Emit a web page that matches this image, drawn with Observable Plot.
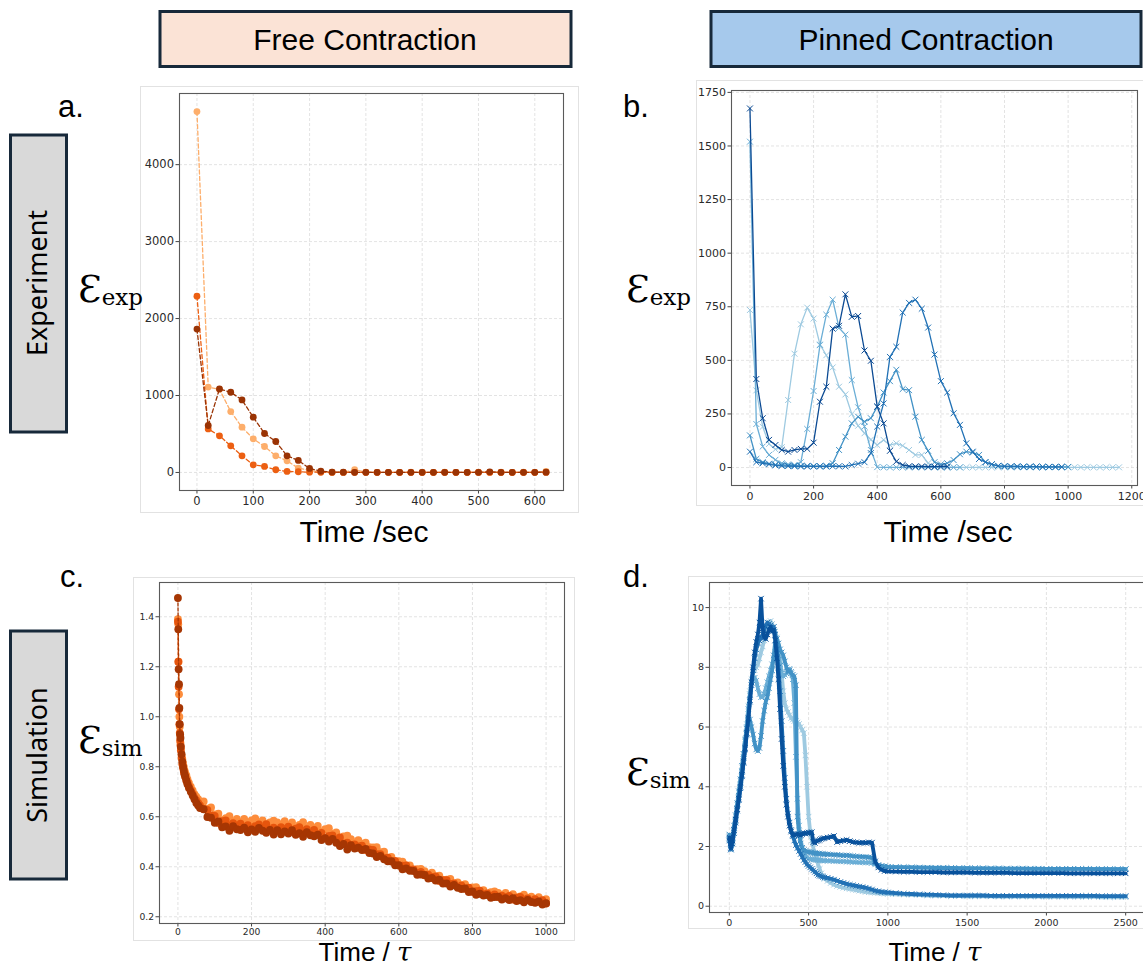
<!DOCTYPE html>
<html><head><meta charset="utf-8">
<script src="https://cdn.jsdelivr.net/npm/d3@7"></script>
<script src="https://cdn.jsdelivr.net/npm/@observablehq/plot@0.6"></script>
<style>
body{margin:0;background:#fff;}
#root{position:relative;width:1143px;height:967px;overflow:hidden;background:#fff;}
.outer{position:absolute;border:1px solid #e2e2e2;box-sizing:border-box;}
</style></head>
<body><div id="root"></div>
<script>
// ---------- Panel a (free contraction, experiment) ----------
const timeA = [0,20,40,60,80,100,120,140,160,180,200,220,240,260,280,300,320,340,360,380,400,420,440,460,480,500,520,540,560,580,600,620];
const aLight = [4690,1110,1080,791,588,437,337,216,151,56,26,5,3,2,35,3,2,2,2,3,2,2,3,2,2,3,2,3,2,3,2,15];
const aMid   = [2291,566,476,346,216,99,78,35,13,9,4,2,1,1,1,1,1,1,1,1,1,1,1,1,1,1,1,1,1,1,1,1];
const aDark  = [1863,610,1085,1042,942,718,506,402,216,156,52,17,5,3,2,2,2,2,2,2,2,2,2,2,2,2,8,2,2,2,2,4];
const xTicksA = [0,100,200,300,400,500,600];
const yTicksA = [0,1000,2000,3000,4000];

// ---------- Panel b (pinned contraction, experiment) ----------
const timeB = [0,20,40,60,80,100,120,140,160,180,200,220,240,260,280,300,320,340,360,380,400,420,440,460,480,500,520,540,560,580,600,620,640,660,680,700,720,740,760,780,800,820,840,860,880,900,920,940,960,980,1000,1020,1040,1060,1080,1100,1120,1140,1160];
const bLight  = [735,360,190,110,85,95,315,531,668,746,695,574,524,467,377,341,250,195,160,130,105,129,105,113,102,82,59,59,20,2,1,1,1,1,1,1,1,1,1,1,1,1,1,1,1,1,1,1,1,1,1,1,1,1,1,1,1,1,1];
const bLMid   = [1520,203,98,59,36,20,15,12,25,180,357,571,713,783,651,620,408,281,191,82,2,1,1,1,1,1,1,1,1,1,1,1,1,1];
const bMid    = [150,40,25,18,14,12,10,9,8,8,7,7,8,20,82,144,206,237,214,230,284,350,403,456,366,361,237,129,78,25,15,20,35,62,74,70,59,25,15,8,6,5,5,4,4,4,3,3,3,3,3];
const bDMid   = [74,25,20,15,10,8,7,6,5,5,5,5,5,6,6,5,12,18,25,67,191,299,516,563,723,768,783,741,653,527,403,350,253,199,113,74,40,25,15,8,6,5,5,4,4,4,3,3,3,3];
const bNavy   = [1675,413,230,129,105,82,74,82,87,87,116,307,377,648,661,808,703,707,546,498,284,206,78,28,12,6,5,5,4,4,5,5];
const xTicksB = [0,200,400,600,800,1000,1200];
const yTicksB = [0,250,500,750,1000,1250,1500,1750];

// ---------- Panel c (free contraction, simulation) ----------
const timeC = [0,1,2,3,4,5,6,7,8,10,12,14,16,18,20,23,26,30,35,40,45,50,55,60,
 70,80,90,100,110,120,130,140,150,160,170,180,190,200,210,220,230,240,250,260,270,280,290,300,
 310,320,330,340,350,360,370,380,390,400,410,420,430,440,450,460,470,480,490,500,510,520,530,540,550,
 560,570,580,590,600,610,620,630,640,650,660,670,680,690,700,710,720,730,740,750,760,770,780,790,800,
 810,820,830,840,850,860,870,880,890,900,910,920,930,940,950,960,970,980,990,1000];
const cLight = [1.39,1.37,1.22,1.09,1.00,0.96,0.925,0.895,0.875,0.845,0.83,0.815,0.80,0.785,0.775,0.765,0.75,0.735,0.72,0.705,0.69,0.68,0.67,0.66,
 0.661,0.632,0.637,0.609,0.612,0.586,0.594,0.602,0.580,0.591,
 0.578,0.591,0.571,0.585,0.593,0.576,0.585,0.566,0.577,0.584,
 0.577,0.563,0.582,0.566,0.577,0.556,0.567,0.578,0.556,0.567,
 0.553,0.563,0.540,0.550,0.554,0.532,0.537,0.513,0.521,0.524,
 0.510,0.496,0.506,0.492,0.496,0.478,0.477,0.478,0.458,0.460,
 0.436,0.439,0.419,0.422,0.420,0.405,0.405,0.387,0.390,0.391,
 0.382,0.367,0.376,0.361,0.364,0.347,0.348,0.351,0.333,0.337,
 0.325,0.330,0.312,0.317,0.318,0.304,0.306,0.291,0.298,0.301,
 0.295,0.283,0.295,0.283,0.290,0.277,0.281,0.288,0.273,0.280,
 0.270,0.278,0.262,0.270];
const cMid = [1.38,1.22,1.12,1.03,0.97,0.935,0.905,0.885,0.865,0.835,0.81,0.795,0.78,0.77,0.76,0.745,0.735,0.72,0.705,0.69,0.675,0.665,0.655,0.645,
 0.631,0.627,0.605,0.603,0.575,0.582,0.585,0.565,0.574,0.557,
 0.572,0.557,0.566,0.550,0.562,0.569,0.555,0.570,0.548,0.556,
 0.547,0.558,0.550,0.560,0.540,0.552,0.558,0.541,0.550,0.533,
 0.547,0.529,0.535,0.515,0.523,0.525,0.507,0.517,0.492,0.496,
 0.486,0.489,0.481,0.484,0.467,0.469,0.467,0.450,0.450,0.434,
 0.436,0.421,0.423,0.405,0.404,0.405,0.388,0.389,0.374,0.379,
 0.366,0.368,0.359,0.361,0.343,0.346,0.346,0.331,0.333,0.319,
 0.325,0.312,0.316,0.300,0.302,0.304,0.289,0.293,0.282,0.289,
 0.279,0.284,0.278,0.283,0.269,0.276,0.279,0.268,0.273,0.262,
 0.270,0.260,0.266,0.253];
const cDark = [1.475,1.35,1.19,1.13,1.035,0.97,0.93,0.915,0.88,0.85,0.82,0.80,0.785,0.77,0.76,0.745,0.73,0.715,0.70,0.685,0.67,0.655,0.645,0.635,
 0.630,0.599,0.596,0.576,0.581,0.558,0.561,0.544,0.562,0.550,
 0.547,0.556,0.538,0.549,0.540,0.555,0.544,0.536,0.547,0.529,
 0.546,0.530,0.541,0.533,0.546,0.528,0.534,0.520,0.538,0.526,
 0.522,0.528,0.507,0.514,0.501,0.511,0.496,0.483,0.491,0.469,
 0.486,0.473,0.476,0.467,0.471,0.455,0.453,0.439,0.443,0.430,
 0.422,0.422,0.406,0.406,0.390,0.393,0.384,0.383,0.368,0.369,
 0.367,0.353,0.355,0.345,0.348,0.333,0.333,0.321,0.327,0.316,
 0.311,0.313,0.299,0.301,0.288,0.292,0.285,0.287,0.276,0.279,
 0.280,0.269,0.274,0.267,0.274,0.263,0.266,0.258,0.267,0.259,
 0.256,0.261,0.249,0.254];
const xTicksC = [0,200,400,600,800,1000];
const yTicksC = [0.2,0.4,0.6,0.8,1.0,1.2,1.4];

// ---------- Panel d (pinned contraction, simulation) ----------
const timeD = [0,10,20,30,40,50,60,70,80,90,100,110,120,130,140,150,160,170,180,190,200,210,220,230,240,250,260,270,280,290,
 300,310,320,330,340,350,360,370,380,390,400,410,420,430,440,450,460,470,480,490,500,510,520,530,540,550,560,570,580,590,600,
 620,640,660,680,700,720,740,760,780,800,820,840,860,880,900,920,940,960,980,1000,
 1050,1100,1150,1200,1250,1300,1350,1400,1450,1500,1550,1600,1650,1700,1750,1800,1850,1900,1950,2000,2050,2100,2150,2200,2250,2300,2350,2400,2450,2500];
const dNavy = [2.30,1.95,2.20,2.55,2.90,3.25,3.60,4.00,4.40,4.85,
 5.30,5.80,6.30,6.90,7.50,8.00,8.50,8.85,9.10,9.50,
 10.30,9.30,9.00,8.95,9.10,9.25,9.35,9.20,9.25,8.90,
 8.30,7.60,6.60,5.60,4.70,4.00,3.40,3.00,2.70,2.50,
 2.40,2.38,2.40,2.42,2.40,2.38,2.42,2.45,2.43,2.45,
 2.47,2.45,2.48,2.15,2.12,2.18,2.20,2.22,2.25,2.27,2.28,
 2.30,2.32,2.35,2.15,2.18,2.20,2.22,2.18,2.15,2.14,2.12,2.13,2.12,2.14,2.13,1.50,1.30,1.22,1.18,1.17,
 1.16,1.15,1.15,1.14,1.14,1.14,1.13,1.13,1.13,1.13,1.12,1.12,1.12,1.12,1.12,1.11,1.11,1.11,1.11,1.11,1.11,1.11,1.10,1.10,1.10,1.10,1.10,1.10,1.10,1.10];
const dDMid = [2.20,1.90,2.10,2.45,2.80,3.20,3.55,3.95,4.35,4.80,
 5.25,5.75,6.25,6.85,7.40,7.90,8.30,8.60,8.80,8.90,
 9.00,9.10,9.25,9.40,9.50,9.45,9.40,9.30,9.35,9.10,
 8.60,8.00,7.20,6.20,5.20,4.30,3.60,3.10,2.80,2.55,
 2.35,2.20,2.05,1.95,1.85,1.75,1.65,1.55,1.48,1.40,
 1.35,1.30,1.25,1.20,1.15,1.10,1.05,1.02,1.00,0.98,0.96,
 0.95,0.92,0.89,0.85,0.81,0.78,0.75,0.72,0.70,0.68,0.66,0.64,0.62,0.59,0.56,0.52,0.50,0.48,0.47,0.46,
 0.44,0.42,0.41,0.40,0.39,0.38,0.37,0.36,0.36,0.36,0.36,0.36,0.35,0.35,0.35,0.35,0.35,0.35,0.35,0.35,0.35,0.35,0.35,0.35,0.35,0.35,0.34,0.34,0.34,0.34];
const dMid = [2.40,2.00,2.30,2.70,3.05,3.45,3.85,4.25,4.70,5.10,
 5.55,5.95,6.20,6.25,6.00,5.75,5.45,5.25,5.20,5.30,
 5.70,6.20,6.55,6.85,7.00,7.30,7.60,7.90,8.40,8.90,
 8.95,8.80,8.60,8.50,8.40,8.20,8.00,7.85,7.90,7.80,
 7.75,7.70,7.40,3.00,2.40,2.10,1.95,1.88,1.85,1.83,
 1.82,1.80,1.80,1.78,1.78,1.77,1.76,1.76,1.75,1.75,1.74,
 1.74,1.73,1.72,1.72,1.71,1.70,1.70,1.69,1.68,1.67,1.66,1.65,1.65,1.64,1.63,1.45,1.38,1.35,1.33,1.32,
 1.31,1.30,1.30,1.29,1.29,1.28,1.28,1.28,1.27,1.27,1.27,1.27,1.26,1.26,1.26,1.26,1.26,1.25,1.25,1.25,1.25,1.25,1.25,1.25,1.25,1.24,1.24,1.24,1.24,1.24];
const dLMid = [2.25,1.90,2.15,2.50,2.85,3.25,3.65,4.05,4.50,5.00,
 5.50,6.00,6.60,7.10,7.50,7.60,7.65,7.55,7.30,7.10,
 7.00,7.00,7.10,7.30,7.50,7.70,7.90,8.10,8.30,8.50,
 8.70,8.40,8.10,7.80,7.70,7.75,7.80,7.90,7.95,7.85,
 7.60,6.80,5.00,3.60,2.70,2.20,1.95,1.80,1.70,1.63,
 1.60,1.58,1.57,1.56,1.56,1.55,1.55,1.54,1.54,1.53,1.53,
 1.52,1.52,1.51,1.51,1.50,1.50,1.49,1.49,1.48,1.48,1.47,1.47,1.46,1.46,1.45,1.40,1.36,1.34,1.33,1.32,
 1.31,1.31,1.30,1.30,1.29,1.29,1.29,1.28,1.28,1.28,1.27,1.27,1.27,1.27,1.26,1.26,1.26,1.26,1.26,1.25,1.25,1.25,1.25,1.25,1.25,1.25,1.25,1.24,1.24,1.24];
const dLight = [2.35,2.05,2.25,2.60,3.00,3.40,3.80,4.20,4.65,5.10,
 5.60,6.10,6.70,7.20,7.60,7.80,7.90,8.00,8.10,8.30,
 8.50,8.70,8.90,9.10,9.30,9.50,9.55,9.45,9.35,9.20,
 9.00,8.70,8.30,7.80,7.20,6.80,6.60,6.50,6.40,6.30,
 6.25,6.20,6.20,6.15,6.10,6.00,5.90,5.80,5.05,4.00,
 3.00,2.50,2.20,1.95,1.75,1.55,1.40,1.25,1.10,1.00,0.92,
 0.85,0.78,0.72,0.68,0.65,0.62,0.60,0.58,0.56,0.54,0.52,0.50,0.48,0.47,0.46,0.45,0.44,0.43,0.42,0.41,
 0.40,0.39,0.38,0.37,0.36,0.35,0.35,0.34,0.34,0.33,0.33,0.33,0.33,0.32,0.32,0.32,0.32,0.32,0.32,0.31,0.31,0.31,0.31,0.31,0.31,0.31,0.30,0.30,0.30,0.30];
const xTicksD = [0,500,1000,1500,2000,2500];
const yTicksD = [0,2,4,6,8,10];

// ---------- helpers ----------
const root = document.getElementById("root");
const zipS = (t, v) => v.map((y, i) => ({t: t[i], v: y}));

function outer(l, t, w, h) {
  const d = document.createElement("div");
  d.className = "outer";
  Object.assign(d.style, {left: l + "px", top: t + "px", width: w + "px", height: h + "px"});
  root.appendChild(d);
}

function panel(o) {
  const grid = {stroke: "#d0d0d0", strokeOpacity: 0.75, strokeDasharray: "3,2", strokeWidth: 0.8};
  const p = Plot.plot({
    width: o.width, height: o.height,
    marginLeft: o.mL, marginRight: o.mR, marginTop: o.mT, marginBottom: o.mB,
    x: {domain: o.xDom},
    y: {domain: o.yDom},
    style: {fontFamily: "DejaVu Sans", fontSize: o.fs + "px", color: "#2a2a2a", background: "transparent", overflow: "visible"},
    marks: [
      Plot.gridX(o.xT, grid),
      Plot.gridY(o.yT, grid),
      Plot.axisX(o.xT, {tickSize: 3.5, tickPadding: o.xPad ?? 3, label: null, fontSize: o.fs, stroke: "#444",
        tickFormat: d => String(d)}),
      Plot.axisY(o.yT, {tickSize: 3.5, tickPadding: 2, label: null, fontSize: o.fs, stroke: "#444",
        tickFormat: o.yFmt || (d => String(d))}),
      ...o.marks,
      Plot.frame({stroke: "#5a5a5a", strokeWidth: 1.1})
    ]
  });
  Object.assign(p.style, {position: "absolute", left: o.left + "px", top: o.top + "px"});
  root.appendChild(p);
}

function dashedDots(data, color, r, dash) {
  return [
    Plot.line(data, {x: "t", y: "v", stroke: color, strokeWidth: 1.3, strokeDasharray: dash}),
    Plot.dot(data, {x: "t", y: "v", fill: color, r: r})
  ];
}
function crossLine(data, color, sw, r) {
  return [
    Plot.line(data, {x: "t", y: "v", stroke: color, strokeWidth: sw}),
    Plot.dot(data, {x: "t", y: "v", symbol: "times", stroke: color, r: r, strokeWidth: 1})
  ];
}

// outer (figure) frames
outer(140, 86, 439, 427);
outer(696, 80, 460, 426);
outer(133, 577, 442, 364);
outer(688, 576, 470, 353);

// panel a
panel({left: 140, top: 86, width: 438, height: 426, mL: 39, mR: 15, mT: 7, mB: 22,
  xDom: [-31, 651], yDom: [-234.5, 4924.5], xT: xTicksA, yT: yTicksA, fs: 11.5,
  marks: [
    ...dashedDots(zipS(timeA, aLight), "#fdae6b", 3.4, "4,2.5"),
    ...dashedDots(zipS(timeA, aMid), "#ec5f12", 3.4, "4,2.5"),
    ...dashedDots(zipS(timeA, aDark), "#9a3304", 3.4, "4,2.5")
  ]});

// panel b
panel({left: 696, top: 80, width: 450, height: 425, mL: 35, mR: 9, mT: 10, mB: 20,
  xDom: [-58, 1218], yDom: [-83.75, 1758.75], xT: xTicksB, yT: yTicksB, fs: 11,
  marks: [
    ...crossLine(zipS(timeB, bLight), "#9ecae1", 1.3, 2.8),
    ...crossLine(zipS(timeB, bLMid), "#6baed6", 1.3, 2.8),
    ...crossLine(zipS(timeB, bMid), "#4292c6", 1.3, 2.8),
    ...crossLine(zipS(timeB, bDMid), "#2171b5", 1.3, 2.8),
    ...crossLine(zipS(timeB, bNavy), "#0b4a93", 1.3, 2.8)
  ]});

// panel c
panel({left: 133, top: 577, width: 441, height: 363, mL: 26, mR: 10, mT: 5, mB: 17,
  xDom: [-50, 1050], yDom: [0.173, 1.537], xT: xTicksC, yT: yTicksC, fs: 9.2, xPad: 1.5,
  yFmt: d3.format(".1f"),
  marks: [
    ...dashedDots(zipS(timeC, cLight), "#fd8d3c", 3.9, "3,2"),
    ...dashedDots(zipS(timeC, cMid), "#e6550d", 3.9, "3,2"),
    ...dashedDots(zipS(timeC, cDark), "#a63603", 3.9, "3,2")
  ]});

// panel d
panel({left: 688, top: 576, width: 458, height: 352, mL: 21, mR: 1, mT: 6, mB: 16,
  xDom: [-125, 2625], yDom: [-0.21, 10.84], xT: xTicksD, yT: yTicksD, fs: 9.5,
  marks: [
    ...crossLine(zipS(timeD, dLight), "#9ecae1", 3.8, 2.6),
    ...crossLine(zipS(timeD, dLMid), "#6baed6", 3.8, 2.6),
    ...crossLine(zipS(timeD, dMid), "#4292c6", 3.8, 2.6),
    ...crossLine(zipS(timeD, dDMid), "#2171b5", 3.8, 2.6),
    ...crossLine(zipS(timeD, dNavy), "#08519c", 3.8, 2.6)
  ]});

// ---------- overlay text and boxes ----------
const svg = d3.select(root).append("svg")
  .attr("width", 1143).attr("height", 967)
  .style("position", "absolute").style("left", "0px").style("top", "0px")
  .style("pointer-events", "none");
const SANS = "Liberation Sans, Arial, sans-serif";
const border = "#17293a";

svg.append("rect").attr("x", 160).attr("y", 11.5).attr("width", 411).attr("height", 55)
  .attr("fill", "#fbe3d6").attr("stroke", border).attr("stroke-width", 3);
svg.append("rect").attr("x", 711).attr("y", 11.5).attr("width", 430).attr("height", 55)
  .attr("fill", "#a6c9ec").attr("stroke", border).attr("stroke-width", 3);
svg.append("text").attr("x", 365).attr("y", 50).attr("text-anchor", "middle")
  .attr("font-family", SANS).attr("font-size", 30).text("Free Contraction");
svg.append("text").attr("x", 926).attr("y", 50).attr("text-anchor", "middle")
  .attr("font-family", SANS).attr("font-size", 30).text("Pinned Contraction");

svg.append("rect").attr("x", 10.5).attr("y", 135).attr("width", 56).attr("height", 297)
  .attr("fill", "#d9d9d9").attr("stroke", border).attr("stroke-width", 3);
svg.append("rect").attr("x", 10.5).attr("y", 631).attr("width", 56).attr("height", 248)
  .attr("fill", "#d9d9d9").attr("stroke", border).attr("stroke-width", 3);
svg.append("text").attr("transform", "translate(47,283) rotate(-90)").attr("text-anchor", "middle")
  .attr("font-family", "Noto Sans, sans-serif").attr("font-size", 27).text("Experiment");
svg.append("text").attr("transform", "translate(47,755) rotate(-90)").attr("text-anchor", "middle")
  .attr("font-family", "Noto Sans, sans-serif").attr("font-size", 27).text("Simulation");

[["a.", 58, 117], ["b.", 623, 117], ["c.", 60, 587], ["d.", 623, 587]].forEach(([s, x, y]) =>
  svg.append("text").attr("x", x).attr("y", y).attr("font-family", SANS).attr("font-size", 31).text(s));

[[364, 542], [948, 542]].forEach(([x, y]) =>
  svg.append("text").attr("x", x).attr("y", y).attr("text-anchor", "middle")
    .attr("font-family", SANS).attr("font-size", 30).text("Time /sec"));
[[365, 961], [935, 961]].forEach(([x, y]) => {
  const t = svg.append("text").attr("x", x).attr("y", y).attr("text-anchor", "middle")
    .attr("font-family", SANS).attr("font-size", 26);
  t.append("tspan").text("Time / ");
  t.append("tspan").attr("font-family", "DejaVu Serif, serif").attr("font-style", "italic").text("τ");
});

[["exp", 78, 302], ["exp", 626, 302], ["sim", 78, 753], ["sim", 626, 785]].forEach(([sub, x, y]) => {
  const t = svg.append("text").attr("x", x).attr("y", y).attr("font-family", "DejaVu Serif, serif");
  t.append("tspan").attr("font-size", 38).text("Ɛ");
  t.append("tspan").attr("font-size", 23).attr("dy", 3).text(sub);
});
</script>
</body></html>
